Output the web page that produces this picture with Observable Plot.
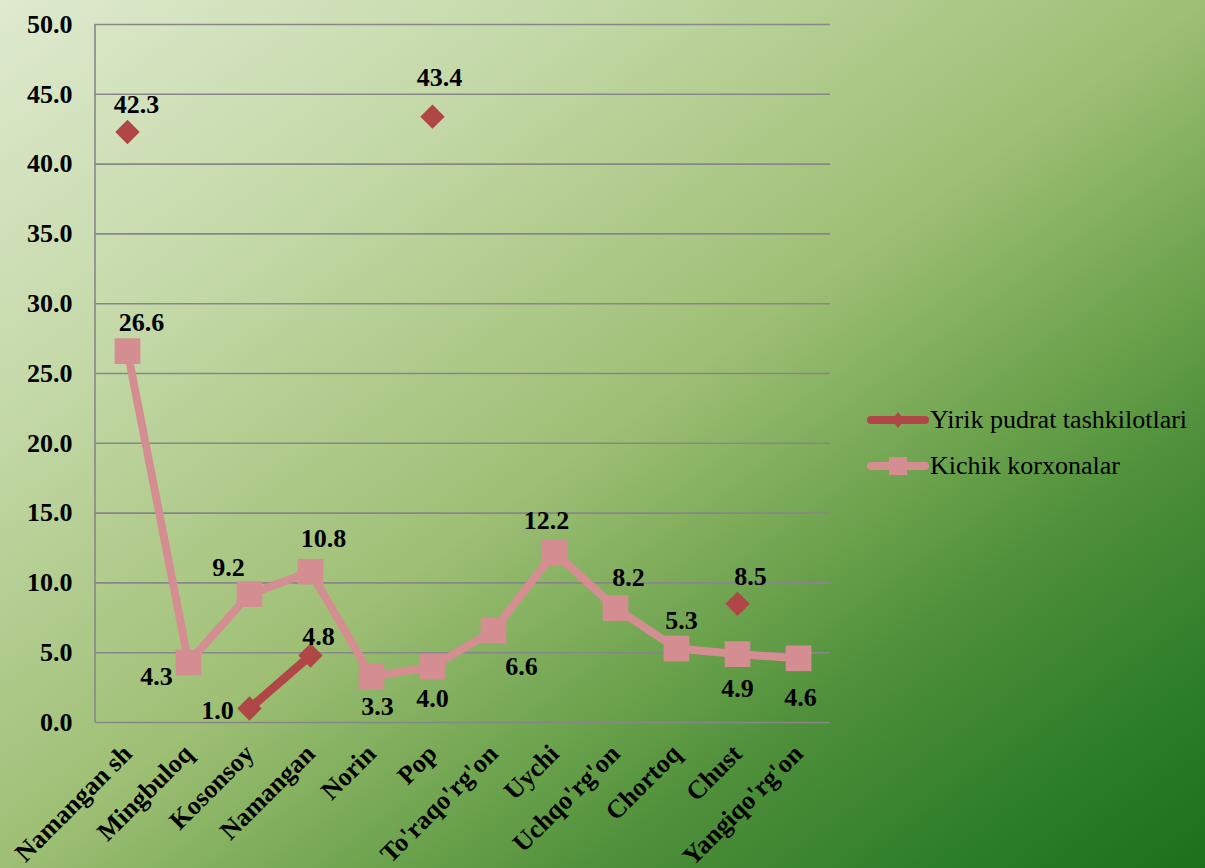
<!DOCTYPE html>
<html>
<head>
<meta charset="utf-8">
<script src="https://cdn.jsdelivr.net/npm/d3@7"></script>
<script src="https://cdn.jsdelivr.net/npm/@observablehq/plot@0.6"></script>
<style>
  html, body { margin: 0; padding: 0; }
  body {
    width: 1205px; height: 868px; overflow: hidden; position: relative;
    background: linear-gradient(to bottom right, #dfeacf 0%, #c3d8a6 25%, #9ebf74 50%, #68a04a 67%, #4f8f3a 75%, #2f7f2a 88%, #1c701c 100%);
    font-family: "Liberation Serif", "Times New Roman", serif;
  }
  #chart { position: absolute; left: 0; top: 0; }
  #legend { position: absolute; left: 864px; top: 397px; }
  .item { display: flex; align-items: center; height: 46px; font-size: 26px; color: #000; white-space: nowrap; }
  .item svg { margin-right: 0px; }
</style>
</head>
<body>
<div id="chart"></div>
<div id="legend"></div>
<script>
const categories = ["Namangan sh", "Mingbuloq", "Kosonsoy", "Namangan", "Norin", "Pop", "To'raqo'rg'on", "Uychi", "Uchqo'rg'on", "Chortoq", "Chust", "Yangiqo'rg'on"];
const kichikKorxonalar = [26.6, 4.3, 9.2, 10.8, 3.3, 4.0, 6.6, 12.2, 8.2, 5.3, 4.9, 4.6];
const yirikPudrat = [42.3, null, 1.0, 4.8, null, 43.4, null, null, null, null, 8.5, null];
const yTicks = [0, 5, 10, 15, 20, 25, 30, 35, 40, 45, 50];
const seriesNames = ["Yirik pudrat tashkilotlari", "Kichik korxonalar"];

// label nudges (dx, dy) for the value labels
const kichikNudge = [[14,-28],[-32,14],[-21,-26],[13,-33],[6,30],[0,32],[28,36],[-8,-32],[13,-30],[5,-28],[0,35],[2,39]];
const yirikNudge = [[9,-27],null,[-32,2],[8,-19],null,[7,-39],null,null,null,null,[13,-27],null];

const pink = "#d48e92";
const red = "#b04646";

const kData = categories.map((c, i) => ({cat: c, value: kichikKorxonalar[i], i}));
const yData = categories.map((c, i) => ({cat: c, value: yirikPudrat[i], i}));
const yPts = yData.filter(d => d.value != null);

const labelStyle = {fontSize: 26, fontWeight: "bold", fill: "#000"};

const chart = Plot.plot({
  width: 1205,
  height: 868,
  marginLeft: 95,
  marginRight: 375,
  marginTop: 24,
  marginBottom: 146,
  style: {background: "transparent", fontFamily: "'Liberation Serif', 'Times New Roman', serif", overflow: "visible"},
  x: {type: "point", domain: categories, padding: 0.5, label: null},
  y: {domain: [0, 50], label: null},
  marks: [
    Plot.ruleY(yTicks, {stroke: "#878787", strokeWidth: 1.6}),
    Plot.axisY({ticks: yTicks, tickFormat: d => d.toFixed(1), tickSize: 0, tickPadding: 23, fontSize: 26, fontWeight: "bold", label: null}),
    Plot.axisX({tickRotate: -45, tickSize: 0, tickPadding: 27, fontSize: 26, fontWeight: "bold", label: null}),
    Plot.line(kData, {x: "cat", y: "value", stroke: pink, strokeWidth: 8}),
    Plot.dot(kData, {x: "cat", y: "value", symbol: "square", r: 14.5, fill: pink}),
    Plot.line(yData, {x: "cat", y: "value", stroke: red, strokeWidth: 8.5}),
    Plot.dot(yPts, {x: "cat", y: "value", symbol: "diamond2", r: 11, fill: red}),
    ...kData.map(d => Plot.text([d], {x: "cat", y: "value", text: v => v.value.toFixed(1), dx: kichikNudge[d.i][0], dy: kichikNudge[d.i][1], ...labelStyle})),
    ...yPts.map(d => Plot.text([d], {x: "cat", y: "value", text: v => v.value.toFixed(1), dx: yirikNudge[d.i][0], dy: yirikNudge[d.i][1], ...labelStyle}))
  ]
});

// left vertical axis line drawn at the start of the x range
{
  const xr = chart.scale("x").range;
  const yr = chart.scale("y").range;
  d3.select(chart).append("line")
    .attr("x1", xr[0]).attr("x2", xr[0])
    .attr("y1", yr[0]).attr("y2", yr[1])
    .attr("stroke", "#878787").attr("stroke-width", 1.6)
    .lower();
  const st = chart.querySelector("style");
  if (st) chart.insertBefore(st, chart.firstChild);
}
document.getElementById("chart").appendChild(chart);

// legend
const legend = d3.select("#legend");
const sw = [
  {name: seriesNames[0], color: red, sym: "diamond"},
  {name: seriesNames[1], color: pink, sym: "square"}
];
for (const s of sw) {
  const item = legend.append("div").attr("class", "item");
  const svg = item.append("svg").attr("width", 66).attr("height", 30);
  svg.append("line").attr("x1", 7).attr("x2", 61).attr("y1", 15).attr("y2", 15)
    .attr("stroke", s.color).attr("stroke-width", 8).attr("stroke-linecap", "round");
  if (s.sym === "diamond") {
    svg.append("path").attr("d", "M34,7 L40,15 L34,23 L28,15 Z").attr("fill", s.color);
  } else {
    svg.append("rect").attr("x", 25).attr("y", 6).attr("width", 18).attr("height", 18).attr("fill", s.color);
  }
  item.append("span").text(s.name);
}
</script>
</body>
</html>
